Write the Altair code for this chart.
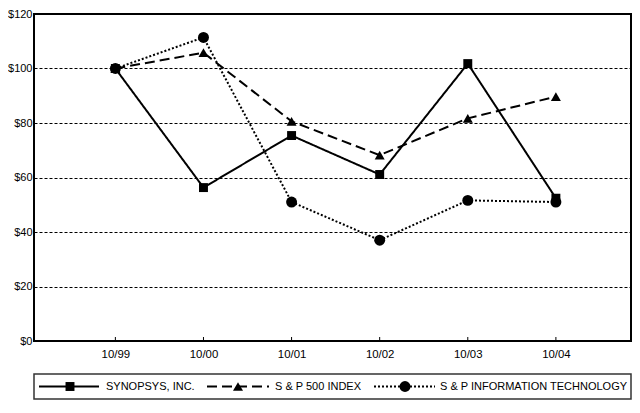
import altair as alt
import pandas as pd

periods = ["10/99", "10/00", "10/01", "10/02", "10/03", "10/04"]
synopsys = [100, 56.3, 75.4, 61.1, 101.8, 52.4]
sp500 = [100, 105.8, 80.6, 68.2, 81.7, 89.7]
sp_it = [100, 111.4, 51.0, 37.0, 51.6, 51.0]
series_names = ["SYNOPSYS, INC.", "S & P 500 INDEX", "S & P INFORMATION TECHNOLOGY"]
y_ticks = [0, 20, 40, 60, 80, 100, 120]

FONT = "Liberation Sans"
W, H = 597, 327

rows = []
for name, vals in zip(series_names, [synopsys, sp500, sp_it]):
    for p, v in zip(periods, vals):
        rows.append({"period": p, "value": v, "series": name})
df = pd.DataFrame(rows)

dash_scale = alt.Scale(domain=series_names, range=[[1, 0], [10, 5], [2, 2]])
shape_scale = alt.Scale(domain=series_names, range=["square", "triangle-up", "circle"])
size_scale = alt.Scale(domain=series_names, range=[80, 120, 85])

x = alt.X(
    "period:N",
    sort=periods,
    scale=alt.Scale(type="point", padding=0.888, align=0.52),
    axis=alt.Axis(title=None, labelAngle=0, domain=False, ticks=False, grid=False,
                  labelPadding=7, labelFontSize=11.4, labelColor="black", labelFont=FONT),
)
y = alt.Y(
    "value:Q",
    scale=alt.Scale(domain=[0, 120]),
    axis=alt.Axis(title=None, values=y_ticks, format="$d", domain=False, ticks=False,
                  grid=True, gridDash=[3, 2], gridColor="black", gridWidth=1, gridOpacity=1,
                  labelPadding=2, labelFontSize=11, labelColor="black", labelFont=FONT),
)

lines = alt.Chart(df).mark_line(color="black", strokeWidth=2).encode(
    x=x, y=y,
    strokeDash=alt.StrokeDash("series:N", scale=dash_scale, legend=None),
)
points = alt.Chart(df).mark_point(filled=True, color="black", opacity=1).encode(
    x=x, y=y,
    shape=alt.Shape("series:N", scale=shape_scale, legend=None),
    size=alt.Size("series:N", scale=size_scale, legend=None),
)
tick_df = pd.DataFrame({"period": periods})
ticks = alt.Chart(tick_df).mark_rule(color="black", strokeWidth=1).encode(
    x=alt.X("period:N", sort=periods),
    y=alt.value(H),
    y2=alt.value(H - 4),
)

# legend layout (separate from the data)
leg_line_start = [5, 173, 340]
leg_line_end = [65, 235, 401]
leg_marker = [36, 204, 371]
leg_text = [72, 241, 406]
leg = pd.DataFrame({"series": series_names, "lx": leg_line_start, "lx2": leg_line_end,
                    "mx": leg_marker, "tx": leg_text})
BOX_TOP, BOX_BOTTOM = 360, 385
LEG_Y = (BOX_TOP + BOX_BOTTOM) / 2

box = alt.Chart(pd.DataFrame({"k": [0]})).mark_rect(
    fill="white", stroke="#333333", strokeWidth=1.5
).encode(x=alt.value(0), x2=alt.value(W), y=alt.value(BOX_TOP), y2=alt.value(BOX_BOTTOM))

leg_lines = alt.Chart(leg).mark_rule(color="black", strokeWidth=2).encode(
    x=alt.X("lx:Q", scale=None), x2="lx2:Q", y=alt.value(LEG_Y),
    strokeDash=alt.StrokeDash("series:N", scale=dash_scale, legend=None),
)
leg_marks = alt.Chart(leg).mark_point(filled=True, color="black", opacity=1).encode(
    x=alt.X("mx:Q", scale=None), y=alt.value(LEG_Y),
    shape=alt.Shape("series:N", scale=shape_scale, legend=None),
    size=alt.Size("series:N", scale=size_scale, legend=None),
)
leg_text_marks = alt.Chart(leg).mark_text(
    align="left", baseline="middle", fontSize=11, font=FONT, color="black"
).encode(x=alt.X("tx:Q", scale=None), y=alt.value(LEG_Y), text="series:N")

chart = alt.layer(
    lines, points, ticks, box, leg_lines, leg_marks, leg_text_marks
).properties(
    width=W, height=H,
    autosize=alt.AutoSizeParams(type="none"),
    padding={"left": 26, "top": 6, "right": 1, "bottom": 60},
).configure_view(stroke="black", strokeWidth=2)

chart.save("out.html", embed_options={"renderer": "svg", "actions": False})
